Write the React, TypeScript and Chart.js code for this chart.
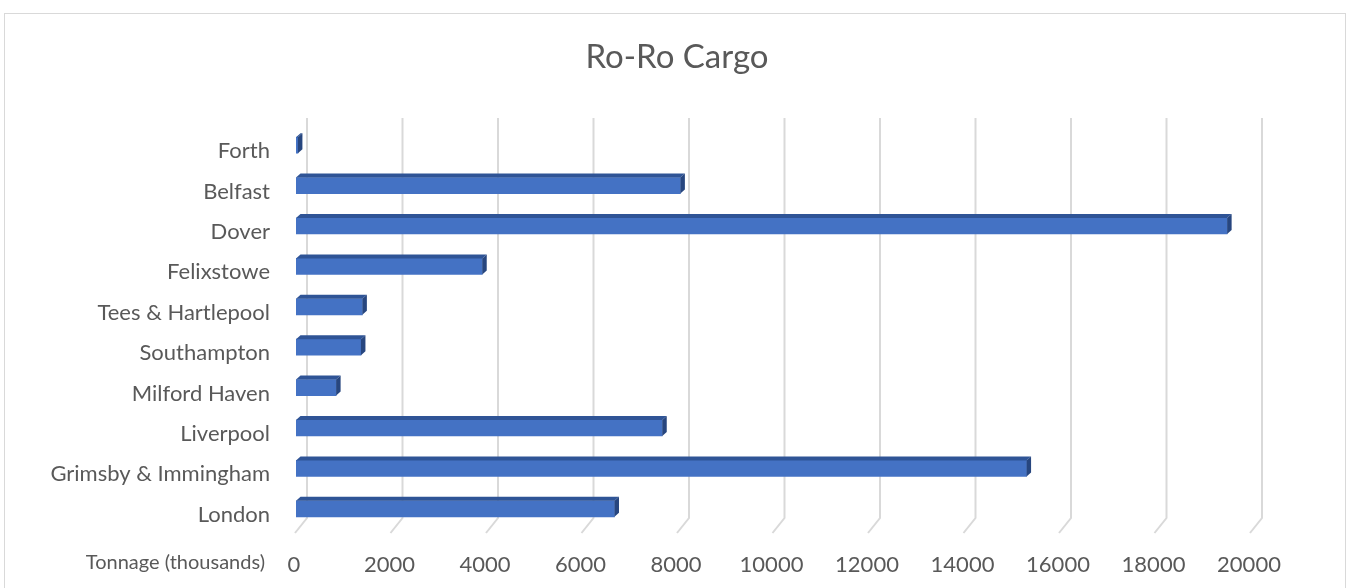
import React, { useEffect, useRef } from "react";
import { Chart, registerables } from "chart.js";

Chart.register(...registerables);

// Data (listed bottom-to-top as in the source sheet)
const categories = [
  "London",
  "Grimsby & Immingham",
  "Liverpool",
  "Milford Haven",
  "Southampton",
  "Tees & Hartlepool",
  "Felixstowe",
  "Dover",
  "Belfast",
  "Forth",
];
const tonnage = [6670, 15300, 7670, 840, 1360, 1390, 3900, 19500, 8050, 40];
const xTickMin = 0;
const xTickMax = 20000;
const xTickStep = 2000;
const chartTitle = "Ro-Ro Cargo";
const axisCaption = "Tonnage (thousands)";

const FONT = "Lato, 'Open Sans', sans-serif";
const TEXT = "#595959";
const GRID = "#d9d9d9";
const FRONT = "#4472C4";
const TOP = "#2F5496";
const SIDE = "#27467F";

const deco = {
  id: "deco",
  beforeDraw(chart: any) {
    const ctx = chart.ctx;
    ctx.save();
    ctx.fillStyle = "#ffffff";
    ctx.fillRect(0, 0, chart.width, chart.height);
    ctx.strokeStyle = GRID;
    ctx.lineWidth = 1;
    ctx.strokeRect(4.5, 13.5, 1341, 620);
    ctx.restore();
  },
  beforeDatasetsDraw(chart: any) {
    const ctx = chart.ctx;
    const xs = chart.scales.x;
    ctx.save();
    ctx.strokeStyle = GRID;
    ctx.lineWidth = 2;
    for (let v = xTickMin; v <= xTickMax; v += xTickStep) {
      const xf = xs.getPixelForValue(v);
      const xb = xf + 11;
      ctx.beginPath();
      ctx.moveTo(xb, 118);
      ctx.lineTo(xb, 518);
      ctx.lineTo(xf - 1, 533);
      ctx.stroke();
    }
    ctx.restore();
  },
  afterDatasetsDraw(chart: any) {
    const ctx = chart.ctx;
    const meta = chart.getDatasetMeta(0);
    const dx = 4.5;
    const dy = 4;
    ctx.save();
    meta.data.forEach((bar: any) => {
      const p = bar.getProps(["x", "y", "base", "height"], true);
      const top = p.y - p.height / 2;
      const bottom = p.y + p.height / 2;
      ctx.fillStyle = TOP;
      ctx.beginPath();
      ctx.moveTo(p.base, top);
      ctx.lineTo(p.x, top);
      ctx.lineTo(p.x + dx, top - dy);
      ctx.lineTo(p.base + dx, top - dy);
      ctx.closePath();
      ctx.fill();
      ctx.fillStyle = SIDE;
      ctx.beginPath();
      ctx.moveTo(p.x, top);
      ctx.lineTo(p.x + dx, top - dy);
      ctx.lineTo(p.x + dx, bottom - dy);
      ctx.lineTo(p.x, bottom);
      ctx.closePath();
      ctx.fill();
    });
    ctx.restore();
  },
  afterDraw(chart: any) {
    const ctx = chart.ctx;
    ctx.save();
    ctx.fillStyle = TEXT;
    ctx.font = `33px ${FONT}`;
    ctx.textAlign = "center";
    ctx.textBaseline = "alphabetic";
    ctx.fillText(chartTitle, 677, 68);
    ctx.font = `20px ${FONT}`;
    ctx.textAlign = "right";
    ctx.textBaseline = "middle";
    ctx.fillText(axisCaption, 265, 563);
    ctx.restore();
  },
};

export default function App() {
  const ref = useRef<HTMLCanvasElement | null>(null);
  useEffect(() => {
    if (!ref.current) return;
    const chart = new Chart(ref.current, {
      type: "bar",
      data: {
        labels: categories,
        datasets: [
          {
            data: tonnage,
            backgroundColor: FRONT,
            borderWidth: 0,
            barThickness: 16,
          },
        ],
      },
      plugins: [deco],
      options: {
        indexAxis: "y",
        responsive: false,
        animation: false,
        layout: { padding: { left: 0, right: 98, top: 125, bottom: 0 } },
        plugins: {
          legend: { display: false },
          tooltip: { enabled: false },
          title: { display: false },
        },
        scales: {
          x: {
            min: xTickMin,
            max: xTickMax,
            grid: { display: false, drawTicks: false },
            border: { display: false },
            ticks: {
              stepSize: xTickStep,
              color: TEXT,
              font: { family: FONT, size: 22 },
              padding: 23,
              labelOffset: -2,
              maxRotation: 0,
              callback: (v: any) => String(v),
            },
            afterFit: (s: any) => {
              s.height = 59;
            },
          },
          y: {
            reverse: true,
            grid: { display: false, drawTicks: false },
            border: { display: false },
            ticks: {
              color: TEXT,
              font: { family: FONT, size: 22 },
              padding: 26,
              labelOffset: 6,
              autoSkip: false,
            },
            afterFit: (s: any) => {
              s.width = 296;
            },
          },
        },
      } as any,
    });
    return () => chart.destroy();
  }, []);
  return (
    <div style={{ position: "fixed", left: 0, top: 0, width: 1349, height: 588, background: "#fff" }}>
      <canvas ref={ref} width={1349} height={588} style={{ display: "block" }} />
    </div>
  );
}
